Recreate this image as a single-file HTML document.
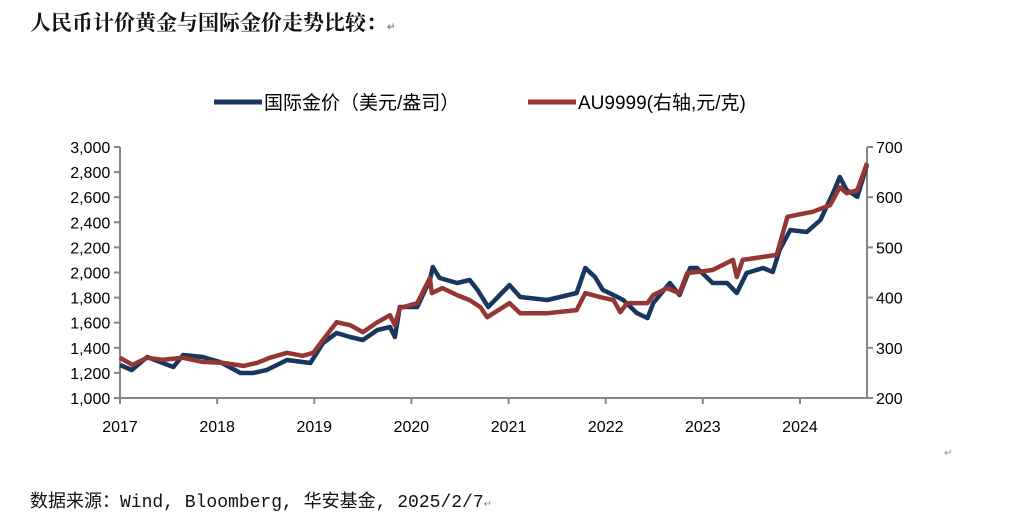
<!DOCTYPE html>
<html><head><meta charset="utf-8"><style>
body{margin:0;background:#fff;width:1027px;height:519px;overflow:hidden;font-family:"Liberation Sans","Noto Sans CJK SC",sans-serif}
</style></head><body>
<svg width="1027" height="519" xmlns="http://www.w3.org/2000/svg">
<text x="30" y="30" font-family="'Noto Serif CJK SC',serif" font-weight="bold" font-size="21" fill="#111">人民币计价黄金与国际金价走势比较：<tspan font-size="10" fill="#888">↵</tspan></text>
<g>
<line x1="214" y1="102" x2="262" y2="102" stroke="#17375e" stroke-width="5"/>
<text x="264" y="109" font-size="19" fill="#000">国际金价（美元/盎司）</text>
<line x1="528" y1="102" x2="576" y2="102" stroke="#943634" stroke-width="5"/>
<text x="578" y="109" font-size="19" fill="#000">AU9999(右轴,元/克)</text>
</g>
<g id="axes"></g>
<g id="series"></g>
<text x="944" y="456" font-size="10" fill="#888">↵</text>
<text x="30" y="507" font-family="'Liberation Mono','Noto Sans CJK SC',monospace" font-size="18" fill="#111">数据来源：Wind, Bloomberg, 华安基金, 2025/2/7<tspan font-size="10" fill="#888">↵</tspan></text>
</svg>
<script>
const usdDates=[2017.00,2017.12,2017.28,2017.44,2017.55,2017.65,2017.85,2018.03,2018.24,2018.37,2018.51,2018.72,2018.96,2019.09,2019.23,2019.37,2019.50,2019.65,2019.78,2019.83,2019.88,2020.06,2020.19,2020.22,2020.29,2020.47,2020.60,2020.68,2020.79,2021.01,2021.12,2021.40,2021.70,2021.79,2021.89,2021.97,2022.12,2022.18,2022.32,2022.43,2022.49,2022.66,2022.76,2022.87,2022.94,2023.10,2023.25,2023.35,2023.45,2023.62,2023.72,2023.79,2023.90,2024.07,2024.21,2024.34,2024.41,2024.48,2024.59,2024.69];
const usdValues=[1263,1223,1327,1279,1247,1343,1327,1287,1199,1199,1223,1303,1279,1438,1518,1486,1462,1542,1566,1486,1725,1725,1940,2044,1956,1916,1940,1861,1725,1900,1805,1781,1837,2036,1964,1861,1805,1781,1677,1637,1757,1916,1821,2036,2036,1916,1916,1837,1996,2036,2004,2179,2339,2323,2418,2633,2761,2657,2602,2857];
const cnyDates=[2017.00,2017.13,2017.28,2017.44,2017.65,2017.85,2018.06,2018.27,2018.41,2018.54,2018.72,2018.88,2018.99,2019.09,2019.23,2019.37,2019.50,2019.65,2019.78,2019.83,2019.88,2020.06,2020.19,2020.21,2020.32,2020.47,2020.60,2020.71,2020.78,2021.01,2021.12,2021.40,2021.70,2021.79,2021.94,2022.08,2022.15,2022.22,2022.43,2022.49,2022.63,2022.76,2022.84,2022.94,2023.10,2023.31,2023.35,2023.41,2023.62,2023.76,2023.87,2023.97,2024.13,2024.31,2024.41,2024.48,2024.59,2024.69];
const cnyValues=[280,266,280,276,280,272,270,264,270,280,290,284,290,316,351,345,331,351,365,345,379,389,439,409,419,405,395,381,361,389,369,369,375,409,401,395,371,389,389,405,419,409,449,451,455,475,441,475,481,485,561,565,571,584,620,608,614,668];
const leftTicks=[1000,1200,1400,1600,1800,2000,2200,2400,2600,2800,3000];
const rightTicks=[200,300,400,500,600,700];
const yearTicks=[2017,2018,2019,2020,2021,2022,2023,2024];
const NS="http://www.w3.org/2000/svg";
const X0=120,X1=867,Y0=398,Y1=147;
const xs=d=>X0+(d-2017)*97.14;
const yl=v=>Y0-(v-1000)/2000*(Y0-Y1);
const yr=v=>Y0-(v-200)/500*(Y0-Y1);
function mk(tag,attrs,parent){const e=document.createElementNS(NS,tag);for(const k in attrs)e.setAttribute(k,attrs[k]);parent.appendChild(e);return e;}
const ax=document.getElementById('axes');const ac="#868686";
let e=mk('line',{x1:X0,y1:Y1,x2:X0,y2:Y0,stroke:ac,'stroke-width':2},ax);


e=mk('line',{x1:X1,y1:Y1,x2:X1,y2:Y0,stroke:ac,'stroke-width':2},ax);


e=mk('line',{x1:X0,y1:Y0,x2:X1,y2:Y0,stroke:ac,'stroke-width':2},ax);


leftTicks.forEach(v=>{const y=yl(v);mk('line',{x1:X0-6,y1:y,x2:X0,y2:y,stroke:ac,'stroke-width':2},ax);
const t=mk('text',{x:X0-27/4-3,y:y+6,'text-anchor':'end','font-size':16,fill:'#000'},ax);t.textContent=v.toLocaleString('en-US');

});
rightTicks.forEach(v=>{const y=yr(v);mk('line',{x1:X1,y1:y,x2:X1+6,y2:y,stroke:ac,'stroke-width':2},ax);
const t=mk('text',{x:X1+9,y:y+6,'font-size':16,fill:'#000'},ax);t.textContent=v;

});
yearTicks.forEach(v=>{const x=xs(v);mk('line',{x1:x,y1:Y0,x2:x,y2:Y0+6,stroke:ac,'stroke-width':2},ax);
const t=mk('text',{x:x,y:Y0+34,'text-anchor':'middle','font-size':16,fill:'#000'},ax);t.textContent=v;

});
const sg=document.getElementById('series');
let p=mk('polyline',{points:usdDates.map((d,i)=>xs(d).toFixed(1)+','+yl(usdValues[i]).toFixed(1)).join(' '),fill:'none',stroke:'#17375e','stroke-width':4.5,'stroke-linejoin':'round'},sg);


p=mk('polyline',{points:cnyDates.map((d,i)=>xs(d).toFixed(1)+','+yr(cnyValues[i]).toFixed(1)).join(' '),fill:'none',stroke:'#943634','stroke-width':4.5,'stroke-linejoin':'round'},sg);


</script>
</body></html>
